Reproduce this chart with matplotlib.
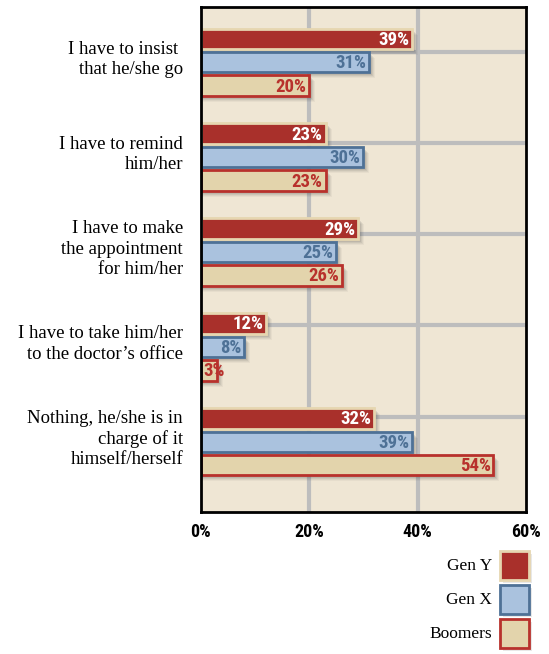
import matplotlib.pyplot as plt
from matplotlib.patches import Rectangle
from matplotlib import font_manager

categories = [
    "I have to insist \nthat he/she go",
    "I have to remind\nhim/her",
    "I have to make\nthe appointment\nfor him/her",
    "I have to take him/her\nto the doctor\u2019s office",
    "Nothing, he/she is in\ncharge of it\nhimself/herself",
]
series_names = ["Gen Y", "Gen X", "Boomers"]
gen_y = [39, 23, 29, 12, 32]
gen_x = [31, 30, 25, 8, 39]
boomers = [20, 23, 26, 3, 54]
x_ticks = [0, 20, 40, 60]
x_tick_labels = ["0%", "20%", "40%", "60%"]

values = [gen_y, gen_x, boomers]
faces = ["#A9302B", "#AAC2DE", "#E3D4AC"]
edges = ["#E6D6B0", "#4E7196", "#B8312C"]
txt_colors = ["white", "#4E7196", "#B8312C"]

names = {f.name for f in font_manager.fontManager.ttflist}
narrow = [n for n in ["Roboto Condensed", "Liberation Sans Narrow", "DejaVu Sans Condensed", "Roboto"] if n in names]
bold_font = dict(family=narrow[:1] + ["DejaVu Sans"], weight="bold")
serif = ["Liberation Serif", "DejaVu Serif"]

fig = plt.figure(figsize=(5.49, 6.54), dpi=100)
ax = fig.add_axes([0.366, 0.217, 0.592, 0.772])
ax.set_facecolor("#EFE6D4")
ax.set_xlim(0, 60)
ax.set_ylim(4.74, -0.58)

# grid
for gx in [20, 40]:
    ax.axvline(gx, color="#BDBDBD", lw=3, zorder=0)
for gy in [-0.105, 0.853, 1.81, 2.77, 3.74]:
    ax.axhline(gy, color="#BDBDBD", lw=3, zorder=0)

offsets = [-0.247, 0.0, 0.247]
h = 0.215
px_x = 60 / 325.0
px_y = 1 / 95.0
for s in range(3):
    for i, v in enumerate(values[s]):
        yc = i + offsets[s]
        # soft shadow
        for k, a in [(6, 0.05), (5, 0.07), (4, 0.09), (3, 0.11)]:
            ax.add_patch(Rectangle((0, yc - h / 2 + k * px_y), v + k * px_x, h,
                                   facecolor="#444444", edgecolor="none", alpha=a, zorder=1))
        ax.barh(yc, v, height=h, color=faces[s], edgecolor=edges[s], linewidth=2, zorder=2)
        if v >= 5:
            ax.text(v - 0.5, yc + 0.01, f"{v}%", ha="right", va="center", fontsize=13.5,
                    color=txt_colors[s], zorder=3, **bold_font)
        else:
            ax.text(0.4, yc + 0.01, f"{v}%", ha="left", va="center", fontsize=13.5,
                    color=txt_colors[s], zorder=3, **bold_font)

for i, c in enumerate(categories):
    ax.text(-0.055, i - 0.03, c, transform=ax.get_yaxis_transform(), ha="right", va="center",
            fontsize=13.5, family=serif, linespacing=1.25, multialignment="right")

ax.set_yticks([])
ax.set_xticks(x_ticks)
ax.set_xticklabels(x_tick_labels, fontsize=13, **bold_font)
ax.tick_params(axis="x", length=0, pad=8)
for sp in ax.spines.values():
    sp.set_color("black")
    sp.set_linewidth(2)

# legend
leg_y = [566, 600, 634]
for s in range(3):
    yy = 1 - leg_y[s] / 654
    fig.patches.append(Rectangle((503 / 549, yy - 17 / 654), 29 / 549, 29 / 654,
                                 transform=fig.transFigure, facecolor="#444444",
                                 edgecolor="none", alpha=0.12, zorder=1))
    fig.patches.append(Rectangle((500 / 549, yy - 14 / 654), 29 / 549, 29 / 654,
                                 transform=fig.transFigure, facecolor=faces[s],
                                 edgecolor=edges[s], linewidth=2, zorder=2))
    fig.text(492 / 549, yy, series_names[s], ha="right", va="center",
             fontsize=12.5, family=serif)

fig.savefig("out.png", dpi=100)
